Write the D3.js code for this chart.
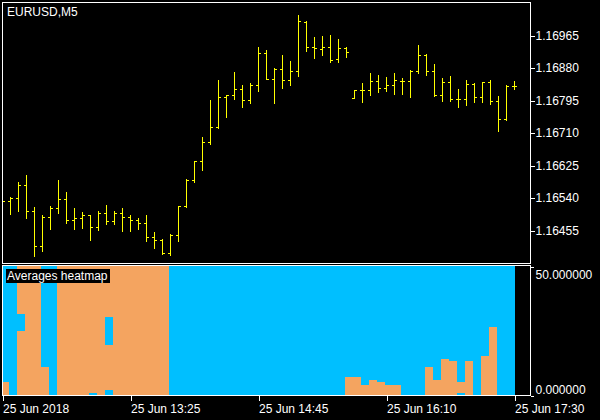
<!DOCTYPE html>
<html><head><meta charset="utf-8">
<script src="https://cdn.jsdelivr.net/npm/d3@7"></script>
<style>html,body{margin:0;padding:0;background:#000;} svg{display:block;}</style>
</head><body>
<svg id="chart" width="600" height="420"></svg>
<script>
// ---------- data ----------
const symbolTitle = "EURUSD,M5";
const heatTitle = "Averages heatmap";
const opens = [1.16530,1.16530,1.16540,1.16572,1.16505,1.16412,1.16488,1.16512,1.16535,1.16480,
  1.16486,1.16493,1.16462,1.16499,1.16478,1.16499,1.16488,1.16480,1.16473,1.16436,
  1.16429,1.16396,1.16441,1.16517,1.16586,1.16635,1.16684,1.16724,1.16802,1.16809,
  1.16823,1.16795,1.16833,1.16917,1.16849,1.16875,1.16847,1.16870,1.16998,1.16933,
  1.16928,1.16933,1.16901,1.16930,1.16799,1.16821,1.16821,1.16845,1.16826,1.16833,
  1.16845,1.16844,1.16872,1.16914,1.16871,1.16807,1.16842,1.16797,1.16797,1.16836,
  1.16802,1.16842,1.16792,1.16745,1.16832];
const highs = [1.16539,1.16542,1.16581,1.16599,1.16516,1.16494,1.16518,1.16586,1.16554,1.16512,
  1.16502,1.16494,1.16505,1.16520,1.16505,1.16512,1.16494,1.16486,1.16494,1.16450,
  1.16431,1.16444,1.16517,1.16588,1.16636,1.16699,1.16795,1.16847,1.16808,1.16868,
  1.16834,1.16839,1.16934,1.16926,1.16879,1.16913,1.16897,1.17017,1.17002,1.16960,
  1.16962,1.16965,1.16955,1.16934,1.16821,1.16839,1.16866,1.16860,1.16855,1.16866,
  1.16852,1.16873,1.16939,1.16915,1.16889,1.16852,1.16857,1.16824,1.16847,1.16839,
  1.16842,1.16847,1.16805,1.16834,1.16845];
const lows = [1.16520,1.16496,1.16505,1.16487,1.16388,1.16401,1.16458,1.16500,1.16474,1.16458,
  1.16461,1.16430,1.16455,1.16472,1.16472,1.16453,1.16453,1.16458,1.16427,1.16409,
  1.16393,1.16390,1.16427,1.16514,1.16581,1.16613,1.16681,1.16723,1.16751,1.16798,
  1.16778,1.16788,1.16819,1.16849,1.16787,1.16827,1.16835,1.16859,1.16924,1.16906,
  1.16912,1.16895,1.16895,1.16908,1.16799,1.16791,1.16809,1.16817,1.16819,1.16811,
  1.16812,1.16804,1.16865,1.16860,1.16806,1.16792,1.16792,1.16778,1.16781,1.16789,
  1.16791,1.16785,1.16714,1.16743,1.16824];
const closes = [1.16530,1.16540,1.16572,1.16505,1.16412,1.16488,1.16512,1.16535,1.16480,1.16486,
  1.16493,1.16462,1.16499,1.16478,1.16499,1.16488,1.16480,1.16473,1.16436,1.16429,
  1.16396,1.16441,1.16517,1.16586,1.16635,1.16684,1.16724,1.16802,1.16807,1.16823,
  1.16795,1.16833,1.16917,1.16849,1.16875,1.16847,1.16870,1.17001,1.16933,1.16930,
  1.16933,1.16899,1.16930,1.16920,1.16821,1.16821,1.16845,1.16826,1.16833,1.16847,
  1.16844,1.16872,1.16914,1.16871,1.16807,1.16842,1.16797,1.16797,1.16836,1.16802,
  1.16842,1.16792,1.16745,1.16832,1.16832];
const priceTicks = [1.16965,1.16880,1.16795,1.16710,1.16625,1.16540,1.16455];
const timeTickBars = [0,16,32,48,64];
const timeTickLabels = ["25 Jun 2018","25 Jun 13:25","25 Jun 14:45","25 Jun 16:10","25 Jun 17:30"];
const heatTicks = [50,0];
// orange runs (in heatmap units) per bar; the rest of each column is blue
const heatOrange = [
  [[0,5.0]],[],[[0,24.8],[31.4,50]],[[0,50]],[[0,50]],[[0,10.9]],[],[[0,50]],[[0,50]],[[0,50]],
  [[0,50]],[[0.8,50]],[[0,50]],[[1.9,19.4],[30.2,50]],[[0,50]],[[0,50]],[[0,50]],[[0,50]],[[0,50]],[[0,50]],
  [[0,50]],[],[],[],[],[],[],[],[],[],
  [],[],[],[],[],[],[],[],[],[],
  [],[],[],[[0,7.0]],[[0,7.0]],[[0,3.9]],[[0,5.8]],[[0,5.0]],[[0,3.9]],[[0,3.9]],
  [],[],[],[[0,10.9]],[[0,5.8]],[[0,14.0]],[[0,13.2]],[[0.9,5.2]],[[0,13.2]],[],
  [[0,15.1]],[[0,26.4]],[],[],[]
];

// ---------- layout ----------
const W = 600, H = 420;
const mainBox = {l:2, r:530, t:2, b:263};
const subBox = {l:2, r:530, t:265, b:395};
const FONT = "Liberation Sans, Arial, sans-serif";
const FS = 12;
const YELLOW = "#ffff00", ORANGE = "#f4a460", BLUE = "#00bfff", WHITE = "#ffffff";

const svg = d3.select("#chart");
svg.append("rect").attr("width", W).attr("height", H).attr("fill", "#000");

const n = opens.length;
const x = d3.scaleLinear().domain([0, n - 1]).range([2, 514]);
const y = d3.scaleLinear().domain([1.16455, 1.16965]).range([230, 35]);
const hy = d3.scaleLinear().domain([0, 50]).range([subBox.b, subBox.t + 1]);

const defs = svg.append("defs");
defs.append("clipPath").attr("id", "clipMain").append("rect")
  .attr("x", mainBox.l + 1).attr("y", mainBox.t + 1)
  .attr("width", mainBox.r - mainBox.l - 1).attr("height", mainBox.b - mainBox.t - 1);
defs.append("clipPath").attr("id", "clipSub").append("rect")
  .attr("x", subBox.l + 1).attr("y", subBox.t + 1)
  .attr("width", x(n - 1) + 1 - subBox.l - 1).attr("height", subBox.b - subBox.t - 1);

// ---------- heatmap ----------
const gh = svg.append("g").attr("clip-path", "url(#clipSub)").attr("shape-rendering", "crispEdges");
const idx = d3.range(n);
gh.selectAll("rect.bg").data(idx).join("rect").attr("class", "bg")
  .attr("x", i => Math.round(x(i)) - 1).attr("width", 8)
  .attr("y", hy(50)).attr("height", hy(0) - hy(50))
  .attr("fill", BLUE);
const cells = [];
heatOrange.forEach((runs, i) => runs.forEach(r => cells.push({i, lo: r[0], hi: r[1]})));
gh.selectAll("rect.or").data(cells).join("rect").attr("class", "or")
  .attr("x", d => Math.round(x(d.i)) - 1).attr("width", 8)
  .attr("y", d => Math.round(hy(d.hi))).attr("height", d => Math.round(hy(d.lo)) - Math.round(hy(d.hi)))
  .attr("fill", ORANGE);

// ---------- OHLC bars ----------
const gb = svg.append("g").attr("clip-path", "url(#clipMain)").attr("shape-rendering", "crispEdges").attr("fill", YELLOW);
const bars = idx.map(i => ({i, o: opens[i], h: highs[i], l: lows[i], c: closes[i]}));
gb.selectAll("rect.v").data(bars).join("rect").attr("class", "v")
  .attr("x", d => Math.round(x(d.i))).attr("width", 1)
  .attr("y", d => Math.round(y(d.h))).attr("height", d => Math.round(y(d.l)) - Math.round(y(d.h)) + 1);
gb.selectAll("rect.o").data(bars).join("rect").attr("class", "o")
  .attr("x", d => Math.round(x(d.i)) - 2).attr("width", 2)
  .attr("y", d => Math.round(y(d.o))).attr("height", 1);
gb.selectAll("rect.c").data(bars).join("rect").attr("class", "c")
  .attr("x", d => Math.round(x(d.i)) + 1).attr("width", 2)
  .attr("y", d => Math.round(y(d.c))).attr("height", 1);

// ---------- frames ----------
function frame(b) {
  svg.append("rect").attr("x", b.l + 0.5).attr("y", b.t + 0.5)
    .attr("width", b.r - b.l).attr("height", b.b - b.t)
    .attr("fill", "none").attr("stroke", WHITE).attr("stroke-width", 1)
    .attr("shape-rendering", "crispEdges");
}
frame(mainBox); frame(subBox);

// ---------- price axis ----------
const ay = d3.axisRight(y).tickValues(priceTicks).tickSize(4).tickPadding(2)
  .tickFormat(d => d.toFixed(5));
const gay = svg.append("g").attr("transform", `translate(${mainBox.r + 0.5},0.5)`).call(ay);
gay.select(".domain").remove();
gay.selectAll("line").attr("stroke", WHITE).attr("shape-rendering", "crispEdges");
gay.selectAll("text").attr("fill", WHITE).attr("font-family", FONT).attr("font-size", FS).attr("x", 5);

// ---------- heat axis ----------
const ah = d3.axisRight(hy).tickValues(heatTicks).tickSize(3).tickFormat(d => d.toFixed(6));
const gah = svg.append("g").attr("transform", `translate(${subBox.r + 0.5},0)`).call(ah);
gah.select(".domain").remove();
gah.selectAll("line").attr("stroke", WHITE).attr("transform", "translate(0,0.5)").attr("shape-rendering", "crispEdges");
gah.selectAll("text").attr("fill", WHITE).attr("font-family", FONT).attr("font-size", FS).attr("x", 5)
  .attr("dy", d => d === 50 ? "1.0em" : "-0.1em");

// ---------- time axis ----------
const at = d3.axisBottom(x).tickValues(timeTickBars).tickSize(5).tickPadding(4)
  .tickFormat((d, i) => timeTickLabels[i]);
const gat = svg.append("g").attr("transform", `translate(0.5,${subBox.b + 0.5})`).call(at);
gat.select(".domain").remove();
gat.selectAll("line").attr("stroke", WHITE).attr("shape-rendering", "crispEdges");
gat.selectAll("text").attr("fill", WHITE).attr("font-family", FONT).attr("font-size", FS)
  .attr("text-anchor", "start").attr("x", 0);

// ---------- titles ----------
svg.append("text").attr("x", 7).attr("y", 16).attr("fill", WHITE)
  .attr("font-family", FONT).attr("font-size", FS).text(symbolTitle);
const ht = svg.append("text").attr("x", 7).attr("y", 280).attr("fill", WHITE)
  .attr("font-family", FONT).attr("font-size", FS).text(heatTitle);
const bb = ht.node().getBBox();
svg.insert("rect", () => ht.node()).attr("x", 6).attr("y", 269)
  .attr("width", Math.ceil(bb.width) + 3).attr("height", 14).attr("fill", "#000");
</script>
</body></html>
